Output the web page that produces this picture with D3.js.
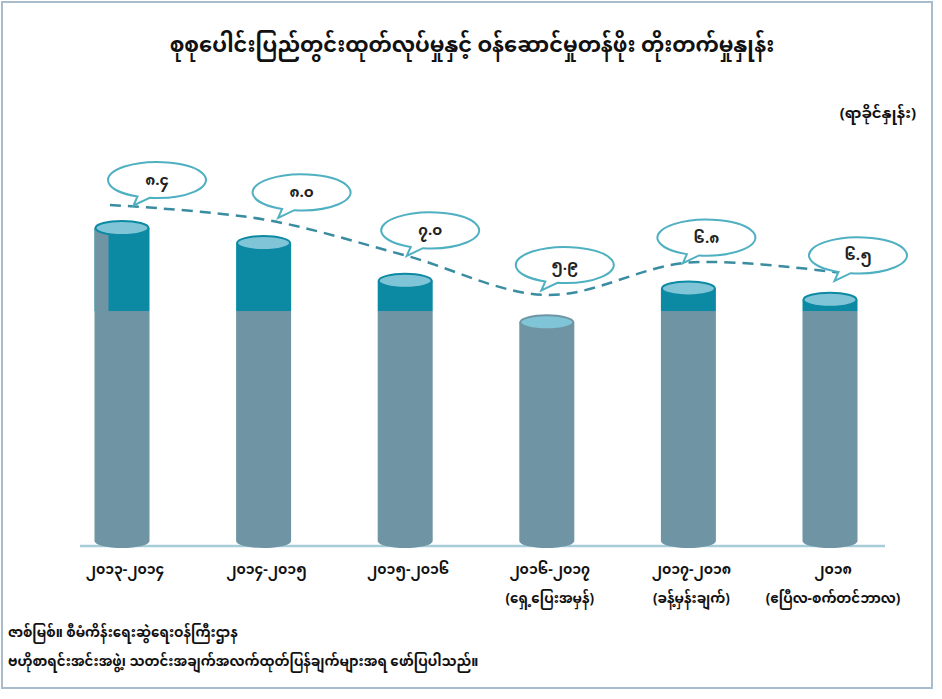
<!DOCTYPE html>
<html>
<head>
<meta charset="utf-8">
<script src="https://cdn.jsdelivr.net/npm/d3@7"></script>
<style>
  body { margin: 0; background: #fff; }
  svg { font-family: "Noto Sans Myanmar", "Padauk", "Myanmar Text", "Noto Sans", sans-serif; }
</style>
</head>
<body>
<svg id="chart" width="942" height="699"></svg>
<script>
// data
const years = ["၂၀၁၃-၂၀၁၄", "၂၀၁၄-၂၀၁၅", "၂၀၁၅-၂၀၁၆", "၂၀၁၆-၂၀၁၇", "၂၀၁၇-၂၀၁၈", "၂၀၁၈"];
const notes = ["", "", "", "(ရှေ့ပြေးအမှန်)", "(ခန့်မှန်းချက်)", "(ဧပြီလ-စက်တင်ဘာလ)"];
const growth = [8.4, 8.0, 7.0, 5.9, 6.8, 6.5];
const growthText = ["၈.၄", "၈.၀", "၇.၀", "၅.၉", "၆.၈", "၆.၅"];
const baseLevel = 6.2;

const title = "စုစုပေါင်းပြည်တွင်းထုတ်လုပ်မှုနှင့် ဝန်ဆောင်မှုတန်ဖိုး တိုးတက်မှုနှုန်း";
const unit = "(ရာခိုင်နှုန်း)";
const source = ["ဇာစ်မြစ်။  စီမံကိန်းရေးဆွဲရေးဝန်ကြီးဌာန",
  "ဗဟိုစာရင်းအင်းအဖွဲ့၊ သတင်းအချက်အလက်ထုတ်ပြန်ချက်များအရ ဖော်ပြပါသည်။"];

const svg = d3.select("#chart");

svg.append("rect")
  .attr("x", 2).attr("y", 2).attr("width", 930).attr("height", 686)
  .style("fill", "none").style("stroke", "#a8bccb").style("stroke-width", 2);

svg.append("text")
  .attr("x", 472).attr("y", 52)
  .attr("text-anchor", "middle")
  .style("font-size", "21px").style("font-weight", "bold")
  .style("fill", "#111")
  .text(title);

svg.append("text")
  .attr("x", 916).attr("y", 118)
  .attr("text-anchor", "end")
  .style("font-size", "15px").style("font-weight", "bold")
  .style("fill", "#111")
  .text(unit);

let x = d3.scalePoint().domain(years).range([122, 830]);
let y = d3.scaleLinear().domain([0, 8.4]).range([545, 228]);
let yLine = d3.scaleLinear().domain([5.9, 8.4]).range([295, 205]);

let barW = 55;
let ry = 7;

// baseline
svg.append("line")
  .attr("x1", 80).attr("x2", 885)
  .attr("y1", y(0) + 1).attr("y2", y(0) + 1)
  .style("stroke", "#a7cdd8").style("stroke-width", 2.5);

let bars = svg.append("g")
  .selectAll(".bar")
  .data(years)
  .join("g")
  .attr("class", "bar");

// gray base part with rounded bottom
bars.append("path")
  .attr("d", (d, i) => {
    let x0 = x(d) - barW / 2;
    let top = y(Math.min(growth[i], baseLevel));
    let bot = y(0) - 4;
    return `M${x0},${top} L${x0},${bot} A${barW / 2},${ry} 0 0 0 ${x0 + barW},${bot} L${x0 + barW},${top} Z`;
  })
  .style("fill", "#6f95a4");

// teal upper part
bars.filter((d, i) => growth[i] > baseLevel)
  .append("rect")
  .attr("x", (d) => x(d) - barW / 2)
  .attr("width", barW)
  .attr("y", (d) => y(growth[years.indexOf(d)]))
  .attr("height", (d) => y(baseLevel) - y(growth[years.indexOf(d)]))
  .style("fill", "#0d8aa3");

// first bar has a grey strip down its left side in the original
bars.filter((d, i) => i == 0)
  .append("rect")
  .attr("x", (d) => x(d) - barW / 2)
  .attr("width", 14)
  .attr("y", (d) => y(growth[0]))
  .attr("height", (d) => y(baseLevel) - y(growth[0]))
  .style("fill", "#6f95a4");

// cylinder tops
bars.append("ellipse")
  .attr("cx", (d) => x(d))
  .attr("cy", (d) => y(growth[years.indexOf(d)]))
  .attr("rx", barW / 2 - 1)
  .attr("ry", ry)
  .style("fill", "#80c5d7")
  .style("stroke", (d) => growth[years.indexOf(d)] > baseLevel ? "#0d8aa3" : "#6f95a4")
  .style("stroke-width", 2);

// dashed trend line
let line = d3.line()
  .x((d, i) => x(years[i]) + (i == 0 ? -12 : i == growth.length - 1 ? 14 : 0))
  .y((d) => yLine(d))
  .curve(d3.curveCatmullRom.alpha(0.5));

svg.append("path")
  .datum(growth)
  .attr("d", line)
  .style("fill", "none")
  .style("stroke", "#3a8ca0")
  .style("stroke-width", 2.5)
  .style("stroke-dasharray", "11,7");

// callout bubbles
let bubbleDx = [35, 38, 25, 18, 18, 28];
let bubbleDy = [-25, -27, -25, -30, -25, -18];
let bubbles = svg.append("g")
  .selectAll(".bubble")
  .data(growth)
  .join("g")
  .attr("class", "bubble")
  .attr("transform", (d, i) =>
    `translate(${x(years[i]) + bubbleDx[i]},${yLine(d) + bubbleDy[i]})`);

bubbles.append("path")
  .attr("d", () => {
    let rx = 49, r2 = 18;
    // ellipse with small tail at lower-left
    let a1 = 1.98, a2 = 1.72;
    let p1 = [rx * Math.cos(a1), r2 * Math.sin(a1)];
    let p2 = [rx * Math.cos(a2), r2 * Math.sin(a2)];
    return `M${p2[0]},${p2[1]} A${rx},${r2} 0 1 0 ${p1[0]},${p1[1]} L${p1[0] - 4},${p1[1] + 9} Z`;
  })
  .style("fill", "#fff")
  .style("stroke", "#4fb0c2")
  .style("stroke-width", 2);

bubbles.append("text")
  .attr("text-anchor", "middle")
  .attr("y", 5)
  .style("font-size", "15px").style("font-weight", "bold")
  .style("fill", "#222")
  .text((d, i) => growthText[i]);

// x labels
svg.append("g")
  .selectAll(".xlab")
  .data(years)
  .join("text")
  .attr("class", "xlab")
  .attr("text-anchor", "middle")
  .attr("x", (d) => x(d) + 3)
  .attr("y", 574)
  .style("font-size", "14px").style("font-weight", "bold")
  .style("fill", "#111")
  .text((d) => d);

svg.append("g")
  .selectAll(".xnote")
  .data(years.filter((d, i) => notes[i]))
  .join("text")
  .attr("class", "xnote")
  .attr("text-anchor", "middle")
  .attr("x", (d) => x(d) + 3)
  .attr("y", 603)
  .style("font-size", "13.5px").style("font-weight", "bold")
  .style("fill", "#111")
  .text((d) => notes[years.indexOf(d)]);

svg.append("g")
  .selectAll(".src")
  .data(source)
  .join("text")
  .attr("x", 8)
  .attr("y", (d, i) => 637 + i * 29)
  .style("font-size", "13.5px").style("font-weight", "bold")
  .style("fill", "#111")
  .text((d) => d);
</script>
</body>
</html>
